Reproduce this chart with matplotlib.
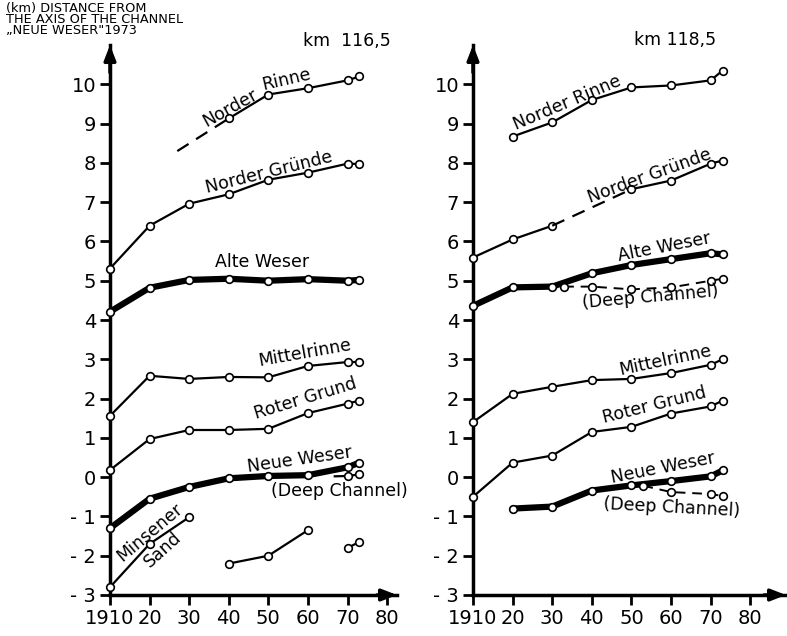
import numpy as np
import matplotlib
matplotlib.use("Agg")
import matplotlib.pyplot as plt

nan = np.nan
years = [1910, 1920, 1930, 1940, 1950, 1960, 1970, 1973]

# ---- km 116,5 (left) ----
L_norder_rinne = [nan, nan, nan, 9.13, 9.74, 9.9, 10.1, 10.2]
L_norder_rinne_dash_x = [1927, 1940]
L_norder_rinne_dash_y = [8.3, 9.13]
L_norder_gruende = [5.31, 6.4, 6.96, 7.2, 7.57, 7.75, 7.98, 7.97]
L_alte_weser = [4.21, 4.82, 5.02, 5.05, 5.0, 5.04, 5.0, 5.02]
L_mittelrinne = [1.56, 2.58, 2.5, 2.55, 2.54, 2.83, 2.93, 2.93]
L_roter_grund = [0.18, 0.97, 1.2, 1.2, 1.23, 1.63, 1.87, 1.95]
L_neue_weser = [-1.3, -0.55, -0.25, -0.03, 0.03, 0.05, 0.25, 0.37]
L_deep_x = [1970, 1973]
L_deep_y = [0.03, 0.07]
L_deep_dash_x = [1966.5, 1970]
L_deep_dash_y = [0.02, 0.03]
L_minsener = [-2.8, -1.7, -1.02, nan, nan, nan, nan, nan]
L_minsener2 = [nan, nan, nan, -2.2, -2.0, -1.35, nan, nan]
L_minsener3 = [nan, nan, nan, nan, nan, nan, -1.8, -1.65]

# ---- km 118,5 (right) ----
R_norder_rinne = [nan, 8.67, 9.03, 9.6, 9.92, 9.97, 10.1, 10.35]
R_norder_gruende_a = [5.59, 6.05, 6.4, nan, nan, nan, nan, nan]
R_norder_gruende_dash_x = [1930, 1950]
R_norder_gruende_dash_y = [6.4, 7.33]
R_norder_gruende_b = [nan, nan, nan, nan, 7.33, 7.55, 7.98, 8.06]
R_alte_weser = [4.36, 4.83, 4.85, 5.19, 5.4, 5.55, 5.7, 5.67]
R_deep_up_x = [1933, 1940, 1950, 1960, 1970, 1973]
R_deep_up_y = [4.85, 4.85, 4.78, 4.83, 5.0, 5.05]
R_mittelrinne = [1.4, 2.12, 2.3, 2.47, 2.5, 2.65, 2.86, 3.0]
R_roter_grund = [-0.5, 0.37, 0.55, 1.15, 1.28, 1.62, 1.8, 1.95]
R_neue_weser = [nan, -0.8, -0.75, -0.34, -0.21, -0.1, 0.02, 0.17]
R_deep_lo_x = [1953, 1960, 1970, 1973]
R_deep_lo_y = [-0.22, -0.38, -0.43, -0.48]

xticks = [1910, 1920, 1930, 1940, 1950, 1960, 1970, 1980]
xticklabels = ["1910", "20", "30", "40", "50", "60", "70", "80"]
yticks = list(range(-3, 11))
yticklabels = ["- 3", "- 2", "- 1"] + [str(v) for v in range(0, 11)]

W, H = 787, 636
fig = plt.figure(figsize=(W / 100, H / 100), dpi=100)
plt.rcParams['font.family'] = ['DejaVu Sans']

def px(x, y):
    return x / W, 1 - y / H

axL = fig.add_axes([110 / W, (H - 595) / H, 287 / W, 550 / H])
axR = fig.add_axes([473 / W, (H - 595) / H, 313 / W, 550 / H])
axL.set_xlim(1910, 1982.5)
axR.set_xlim(1910, 1989)

mk = dict(marker='o', markersize=5.5, markerfacecolor='white',
          markeredgecolor='black', markeredgewidth=1.2)

def thin(ax, x, y, **kw):
    ax.plot(x, y, color='black', lw=1.6, clip_on=False, zorder=3, **mk, **kw)

def thick(ax, x, y):
    ax.plot(x, y, color='black', lw=4.5, clip_on=False, zorder=3,
            solid_capstyle='round')
    ax.plot(x, y, color='none', lw=0, clip_on=False, zorder=4, **mk)

def dash(ax, x, y, marks=False):
    if marks:
        ax.plot(x, y, color='black', lw=1.4, ls=(0, (5, 3.5)), clip_on=False,
                zorder=3, **mk)
    else:
        ax.plot(x, y, color='black', lw=1.6, ls=(0, (6, 4)), clip_on=False, zorder=3)

# left
dash(axL, L_norder_rinne_dash_x, L_norder_rinne_dash_y)
thin(axL, years, L_norder_rinne)
thin(axL, years, L_norder_gruende)
thick(axL, years, L_alte_weser)
thin(axL, years, L_mittelrinne)
thin(axL, years, L_roter_grund)
thick(axL, years, L_neue_weser)
dash(axL, L_deep_dash_x, L_deep_dash_y)
thin(axL, L_deep_x, L_deep_y)
thin(axL, years, L_minsener)
thin(axL, years, L_minsener2)
thin(axL, years, L_minsener3)

# right
thin(axR, years, R_norder_rinne)
thin(axR, years, R_norder_gruende_a)
dash(axR, R_norder_gruende_dash_x, R_norder_gruende_dash_y)
thin(axR, years, R_norder_gruende_b)
thick(axR, years, R_alte_weser)
dash(axR, R_deep_up_x, R_deep_up_y, marks=True)
thin(axR, years, R_mittelrinne)
thin(axR, years, R_roter_grund)
thick(axR, years, R_neue_weser)
dash(axR, R_deep_lo_x, R_deep_lo_y, marks=True)

for ax in (axL, axR):
    ax.set_ylim(-3, 11)
    ax.patch.set_alpha(0)
    for s in ('top', 'right'):
        ax.spines[s].set_visible(False)
    for s in ('left', 'bottom'):
        ax.spines[s].set_linewidth(2.5)
    ax.set_xticks(xticks)
    ax.set_xticklabels(xticklabels)
    ax.set_yticks(yticks)
    ax.set_yticklabels(yticklabels)
    ax.tick_params(direction='out', length=7, width=2, labelsize=14, pad=3)
    ax.annotate('', xy=(0, 1), xycoords='axes fraction', xytext=(0, 0.95),
                arrowprops=dict(arrowstyle='-|>,head_length=0.9,head_width=0.35',
                                color='black', lw=2.5, shrinkA=0, shrinkB=0))
    ax.annotate('', xy=(1, 0), xycoords='axes fraction', xytext=(0.93, 0),
                arrowprops=dict(arrowstyle='-|>,head_length=0.9,head_width=0.35',
                                color='black', lw=2.5, shrinkA=0, shrinkB=0))

# texts
fig.text(*px(6, 2), "(km) DISTANCE FROM\nTHE AXIS OF THE CHANNEL\n„NEUE WESER\"1973",
         fontsize=9.3, va='top', ha='left', linespacing=0.82)
fig.text(*px(347, 41), "km  116,5", fontsize=12.5, ha='center', va='center')
fig.text(*px(675, 40), "km 118,5", fontsize=12.5, ha='center', va='center')

labels = [
    ("Norder", 230, 108, 29), ("Rinne", 286, 80, 13),
    ("Norder Gründe", 269, 172, 14),
    ("Alte Weser", 262, 262, 0),
    ("Mittelrinne", 305, 353, 10),
    ("Roter Grund", 305, 399, 17),
    ("Neue Weser", 300, 460, 8),
    ("(Deep Channel)", 339, 491, 0),
    ("Minsener", 150, 532, 40), ("Sand", 163, 550, 42),
    ("Norder Rinne", 567, 103, 23),
    ("Norder Gründe", 650, 176, 20),
    ("Alte Weser", 664, 247, 11),
    ("(Deep Channel)", 650, 297, 5),
    ("Mittelrinne", 665, 360, 12),
    ("Roter Grund", 654, 405, 14),
    ("Neue Weser", 663, 468, 11),
    ("(Deep Channel)", 672, 508, -3),
]
for t, x, y, r in labels:
    fig.text(*px(x, y), t, fontsize=12.5, rotation=r, ha='center', va='center',
             rotation_mode='anchor')

fig.savefig("out.png", dpi=100)
